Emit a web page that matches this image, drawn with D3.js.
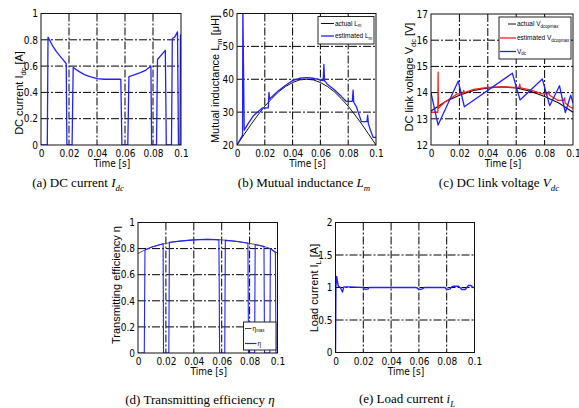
<!DOCTYPE html>
<html>
<head>
<meta charset="utf-8">
<style>
  body { margin: 0; background: #fff; }
</style>
<script src="https://cdn.jsdelivr.net/npm/d3@7"></script>
</head>
<body>
<svg id="fig" width="579" height="408"></svg>
<script>
// shared time axis
var timeTicks = [0, 0.02, 0.04, 0.06, 0.08, 0.1];
var timeLabels = ["0", "0.02", "0.04", "0.06", "0.08", "0.1"];

// (a) DC current Idc
var idcTicks = [0, 0.2, 0.4, 0.6, 0.8, 1];
var idcLabels = ["0", "0.2", "0.4", "0.6", "0.8", "1"];
var idcTime = [0, 0.0045, 0.005, 0.008, 0.011, 0.014, 0.018, 0.0185, 0.0222, 0.023, 0.027, 0.031, 0.035, 0.04, 0.045, 0.057,
  0.0578, 0.062, 0.0628, 0.067, 0.071, 0.075, 0.0785, 0.079, 0.0825, 0.0832, 0.0888, 0.0895, 0.0932, 0.0938, 0.0955, 0.0975,
  0.0982, 0.0993, 0.0996, 0.1];
var idcValue = [0, 0, 0.82, 0.76, 0.71, 0.67, 0.62, 0, 0, 0.59, 0.56, 0.535, 0.52, 0.505, 0.5, 0.5,
  0, 0, 0.52, 0.535, 0.55, 0.57, 0.6, 0, 0, 0.65, 0.72, 0, 0, 0.81, 0.82, 0.86,
  0, 0, 0.83, 0.84];

// (b) mutual inductance Lm
var lmTicks = [20, 30, 40, 50, 60];
var lmLabels = ["20", "30", "40", "50", "60"];
var lmActualTime = [0, 0.005, 0.01, 0.015, 0.02, 0.025, 0.03, 0.035, 0.04, 0.045, 0.05,
  0.055, 0.06, 0.065, 0.07, 0.075, 0.08, 0.085, 0.09, 0.095, 0.1];
var lmActual = [20, 23.1, 26.2, 29.1, 31.8, 34.1, 36.2, 37.8, 39.0, 39.8, 40,
  39.8, 39.0, 37.8, 36.2, 34.1, 31.8, 29.1, 26.2, 23.1, 20];
var lmEstTime = [0, 0.004, 0.0042, 0.0052, 0.008, 0.012, 0.0185, 0.0225, 0.023, 0.0235, 0.024, 0.03, 0.035, 0.04, 0.045,
  0.05, 0.055, 0.058, 0.062, 0.0625, 0.063, 0.065, 0.07, 0.075, 0.0785, 0.083, 0.0835, 0.084, 0.086, 0.0895,
  0.0935, 0.094, 0.0945, 0.096, 0.098, 0.1];
var lmEst = [20, 23, 62, 24.5, 26.5, 29, 31.3, 31.3, 36, 34, 34.2, 36.6, 38.2, 39.6, 40.3,
  40.5, 40.3, 40.0, 39.6, 44.5, 39.5, 38.5, 36.8, 34.8, 33.3, 33.3, 36.7, 33.0, 31.5, 27.1,
  27.1, 29.1, 26.5, 24.5, 22.3, 22.3];

// (c) DC link voltage Vdc
var vTicks = [12, 13, 14, 15, 16, 17];
var vLabels = ["12", "13", "14", "15", "16", "17"];
var vActualTime = [0, 0.01, 0.02, 0.03, 0.04, 0.05, 0.06, 0.07, 0.08, 0.09, 0.1];
var vActual = [13.3, 13.65, 13.9, 14.08, 14.18, 14.22, 14.18, 14.05, 13.85, 13.6, 13.25];
var vEstTime = [0, 0.0048, 0.005, 0.0052, 0.01, 0.015, 0.0185, 0.0225, 0.023, 0.0235, 0.03, 0.04, 0.05, 0.058,
  0.062, 0.0625, 0.063, 0.07, 0.0785, 0.0825, 0.083, 0.0835, 0.0895, 0.0935, 0.094, 0.0945, 0.098, 0.1];
var vEst = [13.25, 13.25, 14.78, 13.4, 13.65, 13.82, 13.95, 13.95, 14.08, 14.0, 14.12, 14.2, 14.22, 14.2,
  14.2, 14.32, 14.18, 14.1, 13.95, 13.95, 14.05, 13.9, 13.7, 13.7, 13.8, 13.6, 13.45, 13.4];
var vdcTime = [0, 0.005, 0.0192, 0.0235, 0.0573, 0.0627, 0.0784, 0.0836, 0.0905, 0.0946, 0.0984, 0.1];
var vdc = [14.0, 12.76, 14.44, 13.46, 14.74, 13.72, 14.52, 13.5, 14.26, 13.24, 13.9, 13.6];

// (d) transmitting efficiency
var etaTicks = [0, 0.2, 0.4, 0.6, 0.8, 1];
var etaLabels = ["0", "0.2", "0.4", "0.6", "0.8", "1"];
var etaMaxTime = [0, 0.005, 0.01, 0.015, 0.02, 0.025, 0.03, 0.035, 0.04, 0.045, 0.05,
  0.055, 0.06, 0.065, 0.07, 0.075, 0.08, 0.085, 0.09, 0.095, 0.1];
var etaMax = [0.762, 0.79, 0.812, 0.828, 0.84, 0.85, 0.857, 0.863, 0.867, 0.87, 0.871,
  0.87, 0.867, 0.862, 0.856, 0.849, 0.84, 0.83, 0.818, 0.8, 0.765];
var etaTime = [0, 0.0045, 0.005, 0.01, 0.015, 0.018, 0.0183, 0.0221, 0.0225, 0.03, 0.04, 0.05, 0.058, 0.0585,
  0.0622, 0.0626, 0.07, 0.0788, 0.0792, 0.0836, 0.084, 0.0903, 0.0907, 0.0945, 0.0949, 0.0985, 0.0989, 0.1];
var eta = [0, 0, 0.79, 0.812, 0.828, 0.837, 0, 0, 0.849, 0.857, 0.867, 0.871, 0.867, 0,
  0, 0.863, 0.856, 0.841, 0, 0, 0.829, 0.816, 0, 0, 0.8, 0.77, 0, 0];

// (e) load current
var ilTicks = [0, 0.5, 1, 1.5, 2];
var ilLabels = ["0", "0.5", "1", "1.5", "2"];
var ilTime = [0, 0.0003, 0.0008, 0.002, 0.0035, 0.005, 0.006, 0.01, 0.02, 0.0205, 0.022, 0.0235, 0.024, 0.03, 0.04,
  0.05, 0.058, 0.0595, 0.061, 0.0625, 0.064, 0.07, 0.079, 0.0795, 0.081, 0.0825, 0.0835, 0.085, 0.0885, 0.0895,
  0.091, 0.0935, 0.0945, 0.0955, 0.0975, 0.099, 0.1];
var il = [0, 1.0, 1.17, 1.02, 1.0, 0.93, 1.01, 1.01, 1.0, 0.98, 0.97, 0.98, 1.0, 1.0, 1.0,
  1.0, 1.0, 0.98, 0.97, 0.98, 1.0, 1.0, 1.0, 0.98, 0.97, 0.98, 1.01, 1.02, 1.02, 1.0,
  0.97, 0.97, 1.0, 1.03, 1.03, 1.0, 1.0];

var svg = d3.select("#fig");
var sansFont = "'Liberation Sans Narrow', 'Arial Narrow', 'DejaVu Sans Condensed', 'Liberation Sans', Arial, sans-serif";
var titleFont = "'Liberation Sans', Arial, sans-serif";
var serifFont = "'Liberation Serif', 'Times New Roman', serif";
var BLUE = "#2222ff";

// write text made of parts: [text, style] where style has "s" for subscript, "i" for italic
function rich(t, parts, size) {
  var off = 0;
  parts.forEach(function(p) {
    var st = p[1] || "";
    var sub = st.indexOf("s") >= 0;
    var target = sub ? size * 0.3 : 0;
    var span = t.append("tspan").text(p[0]);
    if (target != off) span.attr("dy", target - off);
    off = target;
    if (sub) span.attr("font-size", size * 0.68);
    if (st.indexOf("i") >= 0) span.attr("font-style", "italic");
  });
  return t;
}

function panel(o) {
  var x = d3.scaleLinear().domain([0, 0.1]).range([o.left, o.right]);
  var y = d3.scaleLinear().domain([o.yTicks[0], o.yTicks[o.yTicks.length - 1]]).range([o.bottom, o.top]);
  var g = svg.append("g");

  // dash-dot grid
  g.selectAll(".vgrid").data(timeTicks.slice(1, -1)).enter().append("line")
    .attr("x1", d => x(d)).attr("x2", d => x(d))
    .attr("y1", o.top).attr("y2", o.bottom)
    .attr("stroke", "#000").attr("stroke-width", 1).attr("stroke-dasharray", "8,2,2,2");
  g.selectAll(".hgrid").data(o.yTicks.slice(1, -1)).enter().append("line")
    .attr("y1", d => y(d)).attr("y2", d => y(d))
    .attr("x1", o.left).attr("x2", o.right)
    .attr("stroke", "#000").attr("stroke-width", 1).attr("stroke-dasharray", "8,2,2,2");

  // x axis labels
  var xa = g.append("g").attr("transform", "translate(0," + o.bottom + ")")
    .call(d3.axisBottom(x).tickValues(timeTicks).tickFormat((d, i) => timeLabels[i]).tickSize(0).tickPadding(5));
  xa.select(".domain").remove();
  xa.attr("font-family", sansFont).attr("font-size", 10);

  var ya = g.append("g").attr("transform", "translate(" + o.left + ",0)")
    .call(d3.axisLeft(y).tickValues(o.yTicks).tickFormat((d, i) => o.yLabels[i]).tickSize(0).tickPadding(3));
  ya.select(".domain").remove();
  ya.attr("font-family", sansFont).attr("font-size", 10);

  g.append("text").attr("x", (o.left + o.right) / 2 + 1).attr("y", o.bottom + 22)
    .attr("text-anchor", "middle").attr("font-family", sansFont).attr("font-size", 10)
    .text("Time [s]");

  var yt = g.append("text")
    .attr("transform", "translate(" + (o.left - 18) + "," + o.titleY + ") rotate(-90)")
    .attr("text-anchor", "middle").attr("font-family", titleFont).attr("font-size", 11);
  rich(yt, o.title, 11);

  var cap = g.append("text").attr("x", o.capX).attr("y", o.capY)
    .attr("text-anchor", "middle").attr("font-family", serifFont).attr("font-size", 13);
  rich(cap, o.caption, 13);

  var id = "clip" + o.key;
  svg.append("clipPath").attr("id", id).append("rect")
    .attr("x", o.left).attr("y", o.top).attr("width", o.right - o.left).attr("height", o.bottom - o.top);
  var plot = g.append("g").attr("clip-path", "url(#" + id + ")");

  g.append("rect").attr("x", o.left).attr("y", o.top)
    .attr("width", o.right - o.left).attr("height", o.bottom - o.top)
    .attr("fill", "none").attr("stroke", "#111").attr("stroke-width", 1);

  return { g: g, plot: plot, x: x, y: y };
}

function series(p, times, vals, color, width) {
  p.plot.append("path")
    .datum(d3.zip(times, vals))
    .attr("d", d3.line().x(d => p.x(d[0])).y(d => p.y(d[1])))
    .attr("fill", "none").attr("stroke", color).attr("stroke-width", width)
    .attr("stroke-linejoin", "round");
}

function legend(p, box, items) {
  var lg = p.g.append("g");
  lg.append("rect").attr("x", box[0]).attr("y", box[1]).attr("width", box[2]).attr("height", box[3])
    .attr("fill", "#fff").attr("stroke", "#222").attr("stroke-width", 1);
  items.forEach(function(it, i) {
    var yy = box[1] + it.dy;
    lg.append("line").attr("x1", box[0] + it.lx0).attr("x2", box[0] + it.lx1)
      .attr("y1", yy).attr("y2", yy).attr("stroke", it.color).attr("stroke-width", it.w);
    var t = lg.append("text").attr("x", box[0] + it.lx1 + 1).attr("y", yy + 2)
      .attr("font-family", titleFont).attr("font-size", 6.5);
    rich(t, it.label, 6.5);
  });
}

// (a)
var pa = panel({ key: "a", left: 41, right: 181, top: 13.5, bottom: 145, yTicks: idcTicks, yLabels: idcLabels,
  titleY: 93, title: [["DC current I"], ["dc", "s"], [" [A]"]],
  capX: 78, capY: 187, caption: [["(a) DC current "], ["I", "i"], ["dc", "si"]] });
series(pa, idcTime, idcValue, BLUE, 1.3);

// (b)
var pb = panel({ key: "b", left: 237, right: 376, top: 13.5, bottom: 145, yTicks: lmTicks, yLabels: lmLabels,
  titleY: 79, title: [["Mutual inductance L"], ["m", "s"], [" [\u03bcH]"]],
  capX: 304, capY: 187, caption: [["(b) Mutual inductance "], ["L", "i"], ["m", "si"]] });
series(pb, lmActualTime, lmActual, "#111", 1);
series(pb, lmEstTime, lmEst, BLUE, 1.3);
legend(pb, [318, 16.5, 56, 27.5], [
  { dy: 7, lx0: 3, lx1: 16, color: "#111", w: 1, label: [["actual L"], ["m", "s"]] },
  { dy: 19.5, lx0: 3, lx1: 16, color: BLUE, w: 1.3, label: [["estimated L"], ["m", "s"]] }
]);

// (c)
var pc = panel({ key: "c", left: 431, right: 573, top: 14, bottom: 145, yTicks: vTicks, yLabels: vLabels,
  titleY: 77, title: [["DC link voltage V"], ["dc", "s"], [" [V]"]],
  capX: 499, capY: 187, caption: [["(c) DC link voltage "], ["V", "i"], ["dc", "si"]] });
series(pc, vActualTime, vActual, "#111", 1.2);
series(pc, vEstTime, vEst, "#ff2020", 1.3);
series(pc, vdcTime, vdc, BLUE, 1.3);
legend(pc, [499, 17, 72, 42], [
  { dy: 7, lx0: 9, lx1: 17, color: "#111", w: 1, label: [["actual V"], ["dcopmax", "s"]] },
  { dy: 21, lx0: 1, lx1: 17, color: "#ff2020", w: 1.3, label: [["estimated V"], ["dcopmax", "s"]] },
  { dy: 34.5, lx0: 1, lx1: 17, color: BLUE, w: 1.3, label: [["V"], ["dc", "s"]] }
]);

// (d)
var pd = panel({ key: "d", left: 138, right: 277.5, top: 222.5, bottom: 353, yTicks: etaTicks, yLabels: etaLabels,
  titleY: 285, title: [["Transmitting efficiency \u03b7"]],
  capX: 200, capY: 404, caption: [["(d) Transmitting efficiency "], ["\u03b7", "i"]] });
series(pd, etaMaxTime, etaMax, "#555", 1);
series(pd, etaTime, eta, BLUE, 1.1);
legend(pd, [243.5, 322, 32.5, 28], [
  { dy: 6.5, lx0: 1.5, lx1: 8, color: "#444", w: 1, label: [["\u03b7"], ["max", "s"]] },
  { dy: 21.5, lx0: 1.5, lx1: 13, color: BLUE, w: 1.2, label: [["\u03b7"]] }
]);

// (e)
var pe = panel({ key: "e", left: 335.5, right: 474.5, top: 222.5, bottom: 352.5, yTicks: ilTicks, yLabels: ilLabels,
  titleY: 288, title: [["Load current I"], ["L", "s"], [" [A]"]],
  capX: 407, capY: 403, caption: [["(e) Load current "], ["i", "i"], ["L", "si"]] });
series(pe, ilTime, il, BLUE, 1.4);
</script>
</body>
</html>
